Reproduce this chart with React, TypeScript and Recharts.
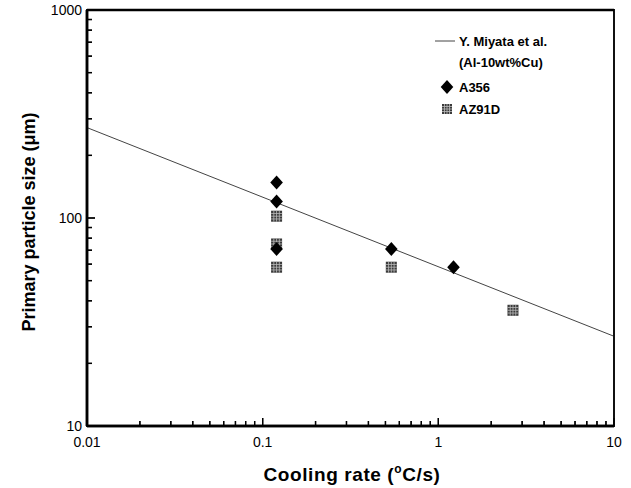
import React from 'react';
import { ComposedChart, XAxis, YAxis, Line, Scatter, Legend, ReferenceLine, ReferenceArea } from 'recharts';

const FONT = '"Liberation Sans", Arial, Helvetica, sans-serif';

// Fit line (Y. Miyata et al., Al-10wt%Cu)
const lineX = [0.01, 10];
const lineY = [272, 27];

// A356 (diamonds)
const a356X = [0.12, 0.12, 0.12, 0.54, 1.22];
const a356Y = [148, 120, 71, 71, 58];

// AZ91D (hatched squares)
const az91dX = [0.12, 0.12, 0.12, 0.54, 2.66];
const az91dY = [102, 75, 58, 58, 36];

// Ticks
const xMajor = [0.01, 0.1, 1, 10];
const xMajorLabels = ['0.01', '0.1', '1', '10'];
const xMinor = [0.02, 0.03, 0.04, 0.05, 0.06, 0.07, 0.08, 0.09, 0.2, 0.3, 0.4, 0.5, 0.6, 0.7, 0.8, 0.9, 2, 3, 4, 5, 6, 7, 8, 9];
const yMajor = [10, 100, 1000];
const yMajorLabels = ['10', '100', '1000'];
const yMinor = [20, 30, 40, 50, 60, 70, 80, 90, 200, 300, 400, 500, 600, 700, 800, 900];

const xMin = 0.01, xMax = 10, yMin = 10, yMax = 1000;

const lineData = lineX.map((x, i) => ({ x, y: lineY[i] }));
const a356Data = a356X.map((x, i) => ({ x, y: a356Y[i] }));
const az91dData = az91dX.map((x, i) => ({ x, y: az91dY[i] }));
const xTickData = [...xMajor.map((x) => ({ x, y: yMin, major: 1 })), ...xMinor.map((x) => ({ x, y: yMin, major: 0 }))];
const yTickData = [...yMajor.map((y) => ({ x: xMin, y, major: 1 })), ...yMinor.map((y) => ({ x: xMin, y, major: 0 }))];

const isMajor = (arr: number[], v: number) => arr.findIndex((m) => Math.abs(m - v) / m < 1e-9);
const lg = Math.log10;

const Diamond = ({ cx, cy, r = 7 }: any) => (
  <polygon points={`${cx},${cy - r} ${cx + r * 0.9},${cy} ${cx},${cy + r} ${cx - r * 0.9},${cy}`} fill="#000" />
);

const HatchSquare = ({ cx, cy, s = 11 }: any) => {
  const h = s / 2;
  const lines = [];
  for (let k = 1; k < 4; k++) {
    const o = -h + (s * k) / 4;
    lines.push(<line key={'v' + k} x1={cx + o} y1={cy - h} x2={cx + o} y2={cy + h} stroke="#bbb" strokeWidth={0.8} />);
    lines.push(<line key={'h' + k} x1={cx - h} y1={cy + o} x2={cx + h} y2={cy + o} stroke="#bbb" strokeWidth={0.8} />);
  }
  return (
    <g>
      <rect x={cx - h} y={cy - h} width={s} height={s} fill="#3a3a3a" />
      {lines}
    </g>
  );
};

const XTickMark = (p: any) => {
  const len = p.payload && p.payload.major ? 8 : 5;
  return <rect x={p.cx - 0.65} y={p.cy - len} width={1.3} height={len} fill="#000" />;
};
const YTickMark = (p: any) => {
  const len = p.payload && p.payload.major ? 8 : 5;
  return <rect x={p.cx} y={p.cy - 0.65} width={len} height={1.3} fill="#000" />;
};

const renderXLabel = (props: any) => {
  const { x, y, payload } = props;
  const idx = isMajor(xMajor, payload.value);
  return (
    <g key={'xt' + payload.value}>
      <line x1={x} y1={y} x2={x} y2={y - 8} stroke="#000" strokeWidth={1.3} />
      {idx >= 0 && (
        <text x={x} y={447} textAnchor="middle" fontFamily={FONT} fontSize={14} fill="#000">
          {xMajorLabels[idx]}
        </text>
      )}
    </g>
  );
};

const renderYLabel = (props: any) => {
  const { x, y, payload } = props;
  const idx = isMajor(yMajor, payload.value);
  return (
    <g key={'yt' + payload.value}>
      <line x1={x} y1={y} x2={x + 8} y2={y} stroke="#000" strokeWidth={1.3} />
      {idx >= 0 && (
        <text x={82} y={y + 5} textAnchor="end" fontFamily={FONT} fontSize={14} fill="#000">
          {yMajorLabels[idx]}
        </text>
      )}
    </g>
  );
};

// Axis title; also redraws the minor tick marks along the axis box the library hands in
const XLabel = ({ viewBox }: any) => {
  const vb = viewBox || { x: 87, y: 426, width: 527 };
  const pos = (v: number) => vb.x + (vb.width * (lg(v) - lg(xMin))) / (lg(xMax) - lg(xMin));
  return (
    <g>
      {xMinor.map((v) => (
        <line key={'lxm' + v} x1={pos(v)} y1={vb.y} x2={pos(v)} y2={vb.y - 5} stroke="#000" strokeWidth={1.3} />
      ))}
      <text x={352} y={481} textAnchor="middle" fontFamily={FONT} fontSize={19} letterSpacing={0.6} fontWeight="bold" fill="#000">
        Cooling rate (<tspan dy={-8} fontSize={12}>o</tspan><tspan dy={8}>C/s)</tspan>
      </text>
    </g>
  );
};

const YLabel = ({ viewBox }: any) => {
  const vb = viewBox || { x: 0, y: 10, width: 87, height: 416 };
  const pos = (v: number) => vb.y + (vb.height * (lg(yMax) - lg(v))) / (lg(yMax) - lg(yMin));
  const ax = vb.x + vb.width;
  const cx = 29;
  const cy = 222;
  return (
    <g>
      {yMinor.map((v) => (
        <line key={'lym' + v} x1={ax} y1={pos(v)} x2={ax + 5} y2={pos(v)} stroke="#000" strokeWidth={1.3} />
      ))}
      <text x={cx} y={cy} transform={`rotate(-90 ${cx} ${cy})`} textAnchor="middle" dominantBaseline="central" fontFamily={FONT} fontSize={18} fontWeight="bold" fill="#000">
        Primary particle size (μm)
      </text>
    </g>
  );
};

const LegendContent = () => (
  <svg width={200} height={100} style={{ display: 'block', overflow: 'visible' }}>
    <line x1={10} y1={13} x2={30} y2={13} stroke="#444" strokeWidth={1} />
    <text x={34} y={18} fontFamily={FONT} fontSize={13} fontWeight="bold" fill="#000">Y. Miyata et al.</text>
    <text x={34} y={39} fontFamily={FONT} fontSize={13} fontWeight="bold" fill="#000">(Al-10wt%Cu)</text>
    <Diamond cx={22} cy={59} r={7} />
    <text x={34} y={64} fontFamily={FONT} fontSize={13} fontWeight="bold" fill="#000">A356</text>
    <HatchSquare cx={22} cy={81} s={10} />
    <text x={34} y={86} fontFamily={FONT} fontSize={13} fontWeight="bold" fill="#000">AZ91D</text>
  </svg>
);

export default function App() {
  return (
    <div style={{ position: 'absolute', left: 0, top: 0, width: 631, height: 488, background: '#fff' }}>
      <ComposedChart width={631} height={488} margin={{ top: 10, right: 17, bottom: 0, left: 0 }}>
        <XAxis
          dataKey="x"
          type="number"
          scale="log"
          domain={[xMin, xMax]}
          ticks={xMajor}
          interval={0}
          tickSize={0}
          tickMargin={0}
          tickLine={false}
          tick={renderXLabel}
          height={62}
          axisLine={{ stroke: '#000', strokeWidth: 2.5 }}
          label={<XLabel />}
        />
        <YAxis
          dataKey="y"
          type="number"
          scale="log"
          domain={[yMin, yMax]}
          ticks={yMajor}
          interval={0}
          tickSize={0}
          tickMargin={0}
          tickLine={false}
          tick={renderYLabel}
          width={87}
          axisLine={{ stroke: '#000', strokeWidth: 2.5 }}
          label={<YLabel />}
        />
        <ReferenceArea x1={xMin} x2={xMax} y1={yMin} y2={yMax} fill="none" fillOpacity={0} stroke="#111" strokeWidth={2} zIndex={2500} />
        <ReferenceLine y={yMax} stroke="#000" strokeWidth={2.5} zIndex={2500} />
        <ReferenceLine y={yMin} stroke="#000" strokeWidth={2.5} zIndex={2500} />
        <ReferenceLine x={xMin} stroke="#000" strokeWidth={2.5} zIndex={2500} />
        <Line data={lineData} dataKey="y" type="linear" stroke="#444" strokeWidth={1} dot={false} activeDot={false} isAnimationActive={false} legendType="none" />
        <Scatter data={az91dData} dataKey="y" name="AZ91D" isAnimationActive={false} shape={(p: any) => <HatchSquare cx={p.cx} cy={p.cy} s={11} />} />
        <Scatter data={a356Data} dataKey="y" name="A356" isAnimationActive={false} shape={(p: any) => <Diamond cx={p.cx} cy={p.cy} r={7} />} />
        <Scatter data={xTickData} dataKey="y" name="xticks" isAnimationActive={false} legendType="none" zIndex={2500} shape={(p: any) => <XTickMark {...p} />} />
        <Scatter data={yTickData} dataKey="y" name="yticks" isAnimationActive={false} legendType="none" zIndex={2500} shape={(p: any) => <YTickMark {...p} />} />
        <Legend
          layout="vertical"
          align="center"
          verticalAlign="middle"
          content={<LegendContent />}
          wrapperStyle={{ position: 'absolute', left: 425, top: 28, width: 200, height: 100 }}
        />
      </ComposedChart>
    </div>
  );
}
